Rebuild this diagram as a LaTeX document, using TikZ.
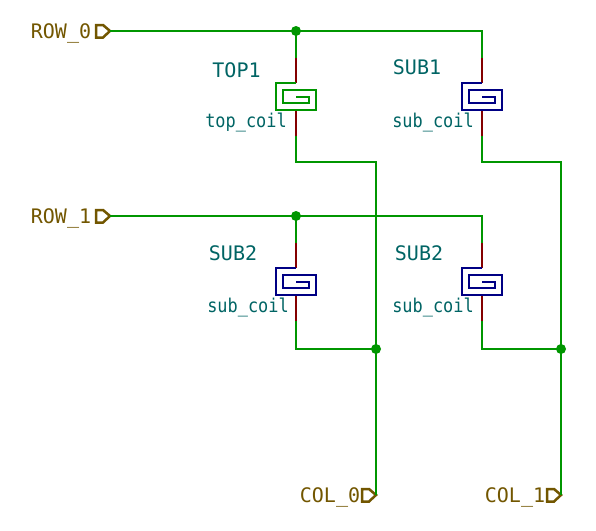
\documentclass[tikz,border=0pt]{standalone}
\usepackage{fontspec}
\setmonofont{DejaVu Sans Mono}
\usetikzlibrary{positioning}
\definecolor{wirecol}{HTML}{009600}
\definecolor{pincol}{HTML}{840000}
\definecolor{subcol}{HTML}{000084}
\definecolor{refcol}{HTML}{006464}
\definecolor{flagcol}{HTML}{725600}
\tikzset{
	wire/.style={draw=wirecol,line width=2.5pt},
	pin/.style={draw=pincol,line width=2.5pt},
	dot/.style={circle,fill=wirecol,inner sep=0pt,minimum size=10pt},
	reflabel/.style={text=refcol,font=\ttfamily\fontsize{20}{20}\selectfont,inner sep=0pt,anchor=base},
	vallabel/.style={text=refcol,font=\ttfamily\fontsize{19}{19}\selectfont,inner sep=0pt,anchor=base,xscale=0.89},
	flaglabel/.style={text=flagcol,font=\ttfamily\fontsize{20}{20}\selectfont,inner sep=0pt,anchor=base},
	coilsym/.pic={
		\draw[line width=2.5pt,line join=miter,pic actions]
		(0,-14) -- (-20,-14) -- (-20,13) -- (20,13) -- (20,-7) -- (-13,-7) -- (-13,6) -- (13,6) -- (13,0) -- (0,0);
	},
	portflag/.pic={
		\draw[draw=flagcol,line width=2.5pt,line join=miter]
		(0,0) -- (-7,-6) -- (-14,-6) -- (-14,6.5) -- (-7,6.5) -- cycle;
	}
}
\begin{document}
\begin{tikzpicture}[x=1pt,y=-1pt]
	\useasboundingbox (0,0) rectangle (596,530);
	
	% junctions
	\node[dot] (j_row0) at (296,31) {};
	\node[dot] (j_row1) at (296,216) {};
	\node[dot] (j_col0) at (376,349) {};
	\node[dot] (j_col1) at (561,349) {};
	
	% ports
	\coordinate (row0) at (110,31);
	\coordinate (row1) at (110,216);
	\coordinate (col0) at (376,495);
	\coordinate (col1) at (561,495);
	\pic at (row0) {portflag};
	\pic at (row1) {portflag};
	\pic at (col0) {portflag};
	\pic at (col1) {portflag};
	
	% pin ends
	\coordinate (top1_a) at (296,58);
	\coordinate (top1_b) at (296,83);
	\coordinate (top1_c) at (296,110);
	\coordinate (top1_d) at (296,136);
	\coordinate (sub1_a) at (482,58);
	\coordinate (sub1_b) at (482,83);
	\coordinate (sub1_c) at (482,110);
	\coordinate (sub1_d) at (482,136);
	\coordinate (sub2_a) at (296,243);
	\coordinate (sub2_b) at (296,268);
	\coordinate (sub2_c) at (296,295);
	\coordinate (sub2_d) at (296,321);
	\coordinate (sub3_a) at (482,243);
	\coordinate (sub3_b) at (482,268);
	\coordinate (sub3_c) at (482,295);
	\coordinate (sub3_d) at (482,321);
	
	% wires
	\path[wire] (row0) -- (j_row0.center) -- (482,31) -- (sub1_a);
	\path[wire] (j_row0.center) -- (top1_a);
	\path[wire] (row1) -- (j_row1.center) -- (482,216) -- (sub3_a);
	\path[wire] (j_row1.center) -- (sub2_a);
	\path[wire] (top1_d) |- (376,162) -- (j_col0.center) -- (col0);
	\path[wire] (sub1_d) |- (561,162) -- (j_col1.center) -- (col1);
	\path[wire] (sub2_d) |- (j_col0.center);
	\path[wire] (sub3_d) |- (j_col1.center);
	
	% pins
	\foreach \name in {top1,sub1,sub2,sub3} {
		\path[pin] (\name_a) -- (\name_b);
		\path[pin] (\name_c) -- (\name_d);
	}
	
	% coils
	\pic[draw=wirecol] at (296,97) {coilsym};
	\pic[draw=subcol] at (482,97) {coilsym};
	\pic[draw=subcol] at (296,282) {coilsym};
	\pic[draw=subcol] at (482,282) {coilsym};
	
	% labels
	\node[flaglabel] (row0_text) at (61,38) {ROW\_0};
	\node[flaglabel] (row1_text) at (61,223) {ROW\_1};
	\node[flaglabel] (col0_text) at (330,502) {COL\_0};
	\node[flaglabel] (col1_text) at (515,502) {COL\_1};
	\node[reflabel] (top1_ref) at (236.5,77) {TOP1};
	\node[vallabel] (top1_val) at (246,127) {top\_coil};
	\node[reflabel] (sub1_ref) at (417,74) {SUB1};
	\node[vallabel] (sub1_val) at (433,127) {sub\_coil};
	\node[reflabel] (sub2_ref) at (233,260) {SUB2};
	\node[vallabel] (sub2_val) at (248,312) {sub\_coil};
	\node[reflabel] (sub3_ref) at (419,260) {SUB2};
	\node[vallabel] (sub3_val) at (433,312) {sub\_coil};
\end{tikzpicture}
\end{document}
